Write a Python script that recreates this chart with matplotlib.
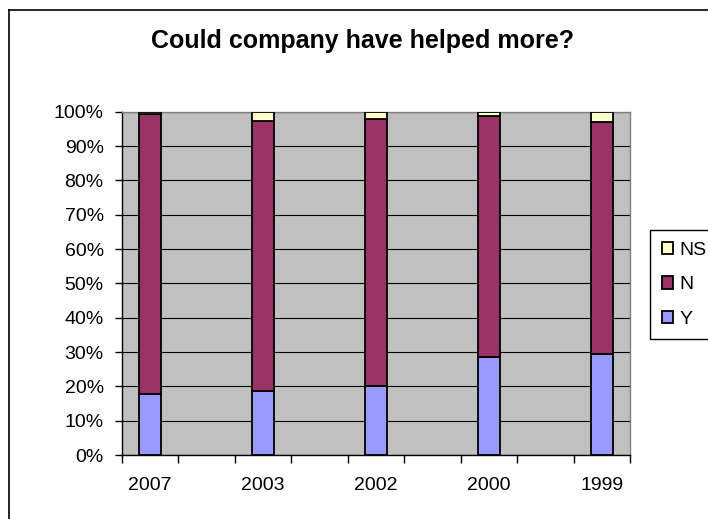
import numpy as np
import matplotlib
matplotlib.use("Agg")
from matplotlib import pyplot as plt
from matplotlib.lines import Line2D
from matplotlib.ticker import PercentFormatter

# Dados (percentuais)
anos = ['2007', '2003', '2002', '2000', '1999']
y_vals = [17.9, 18.5, 20.1, 28.5, 29.4]
n_vals = [81.4, 78.7, 77.8, 70.3, 67.7]
ns_vals = [0.7, 2.8, 2.1, 1.2, 2.9]

cor_y = '#9999FF'
cor_n = '#993366'
cor_ns = '#FFFFCC'

plt.rcParams['font.family'] = ['Liberation Sans', 'DejaVu Sans']

fig = plt.figure(figsize=(7.08, 5.19), dpi=100)
ax = fig.add_axes([121.7 / 708, 1 - 455 / 519, (630 - 121.7) / 708, (455 - 111.7) / 519])
ax.set_facecolor('#C0C0C0')

# categorias vazias entre os anos (como no Excel)
x = np.arange(len(anos)) * 2
larg = 0.39
y_arr = np.array(y_vals)
n_arr = np.array(n_vals)
ns_arr = np.array(ns_vals)
b1 = ax.bar(x, y_arr, larg, color=cor_y, edgecolor='black', linewidth=1.3, zorder=3, label='Y')
b2 = ax.bar(x, n_arr, larg, bottom=y_arr, color=cor_n, edgecolor='black', linewidth=1.3, zorder=3, label='N')
b3 = ax.bar(x, ns_arr, larg, bottom=y_arr + n_arr, color=cor_ns, edgecolor='black', linewidth=1.3, zorder=3, label='NS')

ax.set_xlim(-0.5, 2 * len(anos) - 1.5)
ax.set_ylim(0, 100)
ax.set_yticks(np.arange(0, 101, 10))
ax.yaxis.set_major_formatter(PercentFormatter(decimals=0))
ax.grid(axis='y', color='black', linewidth=0.8, zorder=1)
ax.set_axisbelow(True)

ax.set_xticks(x)
ax.set_xticklabels(anos)
ax.set_xticks(np.arange(-0.5, 2 * len(anos) - 1, 1), minor=True)
ax.tick_params(axis='x', which='major', length=0, pad=16, labelsize=14)
ax.tick_params(axis='x', which='minor', length=6, width=1, color='black', direction='out')
ax.tick_params(axis='y', which='major', length=5, width=1, color='black', direction='out', pad=8, labelsize=14)

for lado in ['top', 'right']:
    ax.spines[lado].set_color('#808080')
    ax.spines[lado].set_linewidth(1)
for lado in ['left', 'bottom']:
    ax.spines[lado].set_color('black')
    ax.spines[lado].set_linewidth(1)

fig.text(363 / 708, 1 - 41 / 519, 'Could company have helped more?', ha='center', va='center',
         fontsize=18, fontweight='bold')

leg = fig.legend([b3, b2, b1], ['NS', 'N', 'Y'], loc='upper left',
                 bbox_to_anchor=(650 / 708, 1 - 230 / 519), fontsize=14,
                 handlelength=0.6, handleheight=0.6, handletextpad=0.3,
                 labelspacing=0.9, borderpad=0.6, borderaxespad=0,
                 fancybox=False, framealpha=1)
leg.get_frame().set_edgecolor('black')
leg.get_frame().set_linewidth(1)

# borda externa do grafico (continua alem da imagem)
fig.add_artist(Line2D([9 / 708, 1.2], [1 - 10 / 519, 1 - 10 / 519], color='black', linewidth=1.2, transform=fig.transFigure))
fig.add_artist(Line2D([9 / 708, 9 / 708], [1 - 10 / 519, -0.2], color='black', linewidth=1.2, transform=fig.transFigure))

fig.savefig('out.png', dpi=100)
